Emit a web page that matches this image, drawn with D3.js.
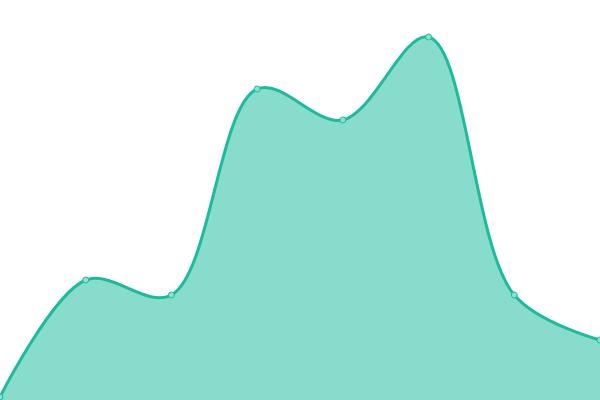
<!DOCTYPE html>
<html>
<head>
<meta charset="utf-8">
<script src="https://cdn.jsdelivr.net/npm/d3@7"></script>
<style>
  html, body { margin: 0; padding: 0; background: #fff; }
  svg { display: block; }
</style>
</head>
<body>
<svg id="chart" width="600" height="400"></svg>
<script>
// categories along x, values along y
const categories = ['A', 'B', 'C', 'D', 'E', 'F', 'G', 'H'];
const values = [3, 120, 105, 311, 280, 363, 105, 60];

const width = 600;
const height = 400;

const xScale = d3.scalePoint()
  .domain(categories)
  .range([0, width]);

const yScale = d3.scaleLinear()
  .domain([0, 400])
  .range([height, 0]);

const chartdata = categories.map((c, i) => ({ cat: c, value: values[i] }));

const svg = d3.select('#chart');

const area = d3.area()
  .x(d => xScale(d.cat))
  .y0(yScale(0))
  .y1(d => yScale(d.value))
  .curve(d3.curveCatmullRom);

const line = d3.line()
  .x(d => xScale(d.cat))
  .y(d => yScale(d.value))
  .curve(d3.curveCatmullRom);

svg.append('path')
  .attr('d', area(chartdata))
  .attr('fill', '#1abc9c')
  .attr('fill-opacity', 0.52);

svg.append('path')
  .attr('d', line(chartdata))
  .attr('fill', 'none')
  .attr('stroke', '#1abc9c')
  .attr('stroke-width', 3);

svg.selectAll('circle')
  .data(chartdata)
  .enter()
  .append('circle')
  .attr('cx', d => xScale(d.cat))
  .attr('cy', d => yScale(d.value))
  .attr('r', 3)
  .attr('fill', '#8ce0cf')
  .attr('stroke', '#1abc9c')
  .attr('stroke-width', 1);
</script>
</body>
</html>
